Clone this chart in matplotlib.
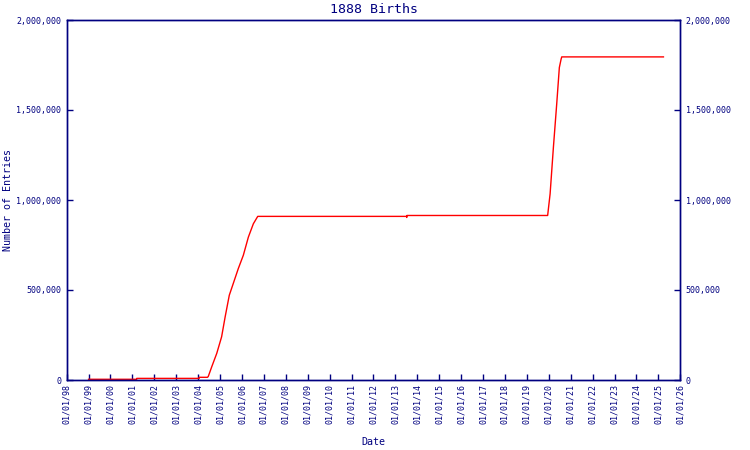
import numpy as np
import pandas as pd
import matplotlib
matplotlib.use("Agg")
import matplotlib.pyplot as plt
import matplotlib.dates as mdates
from matplotlib.ticker import FuncFormatter, MultipleLocator

# ------------------------------------------------------------
# Donnees
# ------------------------------------------------------------
dates = [
    "1999-01-01", "2001-03-13", "2001-03-14", "2004-01-18", "2004-01-19",
    "2004-06-05", "2004-06-18", "2004-08-15", "2004-11-06", "2005-01-26",
    "2005-03-26", "2005-06-03", "2005-08-08", "2005-10-31", "2006-01-23",
    "2006-04-17", "2006-07-09", "2006-09-20", "2013-07-06", "2013-07-08",
    "2013-07-12", "2019-12-13", "2020-01-23", "2020-03-18", "2020-05-12",
    "2020-06-25", "2020-07-24", "2020-08-04", "2025-03-26",
]
entries = [
    4000, 4000, 9000, 9000, 15000,
    15000, 20000, 74000, 148000, 240000,
    351000, 471000, 536000, 619000, 693000,
    794000, 868000, 909000, 909000, 903000,
    914000, 914000, 1034000, 1293000, 1533000,
    1736000, 1782000, 1795000, 1795000,
]

title = "1888 Births"
xlab = "Date"
ylab = "Number of Entries"

navy = "#000080"
mono = "DejaVu Sans Mono"

plt.rcParams.update({
    "font.family": mono,
    "font.size": 6,
    "text.color": navy,
    "axes.edgecolor": navy,
    "axes.labelcolor": navy,
    "xtick.color": navy,
    "ytick.color": navy,
})

fig = plt.figure(figsize=(7.5, 4.5), dpi=100)
ax = fig.add_axes([66.7 / 750, 1 - 380 / 450, 613.6 / 750, 360 / 450])

x = pd.to_datetime(dates)
ax.plot(x, entries, color="red", linewidth=1.0)

ax.set_xlim(pd.Timestamp("1998-01-01"), pd.Timestamp("2026-01-01"))
ax.set_ylim(0, 2000000)

ax.xaxis.set_major_locator(mdates.YearLocator(1))
ax.xaxis.set_major_formatter(mdates.DateFormatter("%m/%d/%y"))
ax.yaxis.set_major_locator(MultipleLocator(500000))
fmt = FuncFormatter(lambda v, p: f"{int(v):,}")
ax.yaxis.set_major_formatter(fmt)

for s in ax.spines.values():
    s.set_linewidth(1.0)

ax.tick_params(axis="both", direction="in", length=4, width=1.0, labelsize=6)
ax.tick_params(axis="x", labelrotation=90, pad=3)
ax.tick_params(axis="y", pad=4)

ax2 = ax.twinx()
ax2.set_ylim(ax.get_ylim())
ax2.yaxis.set_major_locator(MultipleLocator(500000))
ax2.yaxis.set_major_formatter(fmt)
ax2.tick_params(axis="y", direction="in", length=4, width=1.0, labelsize=6, pad=4)
for s in ax2.spines.values():
    s.set_linewidth(1.0)

ax.set_title(title, fontsize=9.5, color=navy, pad=5)
ax.set_xlabel(xlab, fontsize=7.2)
ax.set_ylabel(ylab, fontsize=7.2)
ax.xaxis.set_label_coords(0.5, -0.158)
ax.yaxis.set_label_coords(-0.0875, 0.5)

fig.savefig("out.png", dpi=100)
